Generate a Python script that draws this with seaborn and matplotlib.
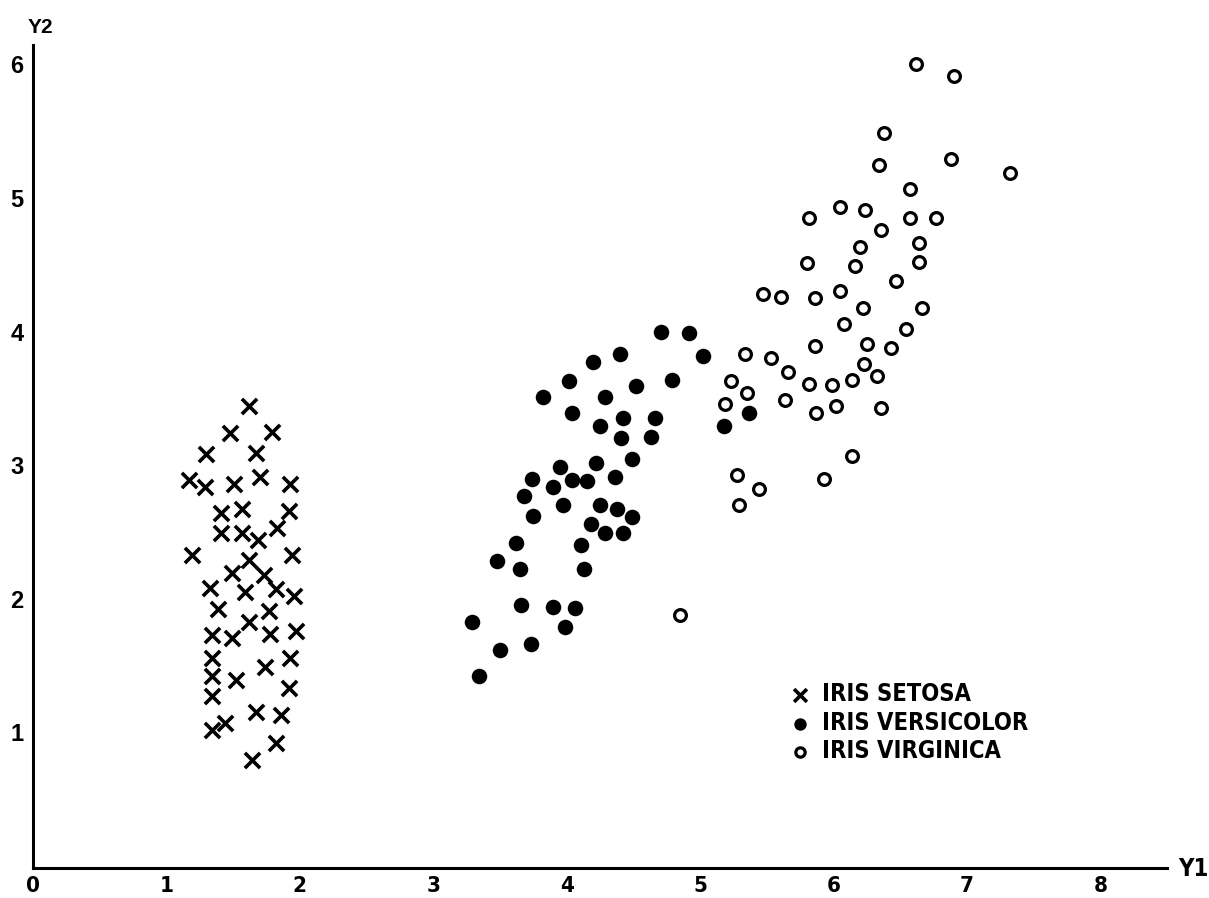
import pandas as pd
import numpy as np
import seaborn as sns
import matplotlib.pyplot as plt
from matplotlib import font_manager

# values
setosa_y1 = [1.62, 1.48, 1.79, 1.30, 1.67, 1.17, 1.29, 1.51, 1.70, 1.93,
             1.41, 1.57, 1.92, 1.41, 1.57, 1.69, 1.83, 1.19, 1.62, 1.94,
             1.49, 1.73, 1.33, 1.59, 1.82, 1.96, 1.39, 1.77, 1.62, 1.34,
             1.49, 1.78, 1.97, 1.34, 1.93, 1.34, 1.52, 1.74, 1.34, 1.92,
             1.67, 1.86, 1.34, 1.44, 1.82, 1.64]
setosa_y2 = [3.44, 3.24, 3.25, 3.08, 3.09, 2.89, 2.84, 2.86, 2.91, 2.86,
             2.64, 2.67, 2.66, 2.49, 2.49, 2.44, 2.53, 2.33, 2.29, 2.33,
             2.19, 2.18, 2.08, 2.05, 2.07, 2.02, 1.92, 1.91, 1.83, 1.73,
             1.71, 1.74, 1.76, 1.56, 1.56, 1.42, 1.39, 1.49, 1.27, 1.33,
             1.15, 1.13, 1.02, 1.07, 0.92, 0.79]

versicolor_y1 = [4.71, 4.92, 4.40, 4.20, 5.02, 4.02, 4.52, 4.79, 3.82, 4.29,
                 4.04, 4.25, 4.42, 4.66, 4.41, 4.63, 5.18, 4.49, 4.22, 3.95,
                 3.74, 3.90, 4.04, 4.15, 4.36, 3.68, 3.97, 4.25, 4.38, 4.49,
                 3.75, 4.18, 4.29, 4.42, 3.62, 4.11, 3.48, 3.65, 4.13, 3.66,
                 3.90, 4.06, 3.99, 3.29, 3.50, 3.73, 3.34, 5.37]
versicolor_y2 = [4.00, 3.99, 3.83, 3.77, 3.82, 3.63, 3.59, 3.64, 3.51, 3.51,
                 3.39, 3.29, 3.35, 3.35, 3.20, 3.21, 3.29, 3.05, 3.02, 2.99,
                 2.90, 2.84, 2.89, 2.88, 2.91, 2.77, 2.70, 2.70, 2.67, 2.61,
                 2.62, 2.56, 2.49, 2.49, 2.42, 2.40, 2.28, 2.22, 2.22, 1.95,
                 1.94, 1.93, 1.79, 1.83, 1.62, 1.66, 1.42, 3.39]

virginica_y1 = [6.62, 6.90, 6.38, 6.34, 6.88, 7.32, 6.57, 5.82, 6.05, 6.24,
                6.57, 6.77, 6.36, 6.64, 6.20, 5.80, 6.16, 6.64, 6.47, 5.47,
                5.61, 5.86, 6.05, 6.22, 6.66, 6.08, 6.54, 5.86, 6.25, 6.43,
                5.34, 5.53, 6.23, 5.66, 5.23, 5.82, 5.99, 6.14, 6.33, 5.35,
                5.19, 5.64, 5.87, 6.02, 6.36, 6.14, 5.28, 5.93, 5.44, 5.29,
                4.85]
virginica_y2 = [6.00, 5.91, 5.49, 5.25, 5.29, 5.19, 5.07, 4.85, 4.93, 4.91,
                4.85, 4.85, 4.76, 4.66, 4.63, 4.51, 4.49, 4.52, 4.38, 4.28,
                4.26, 4.25, 4.30, 4.18, 4.18, 4.06, 4.02, 3.89, 3.91, 3.88,
                3.83, 3.80, 3.76, 3.70, 3.63, 3.61, 3.60, 3.64, 3.67, 3.54,
                3.46, 3.49, 3.39, 3.44, 3.43, 3.07, 2.93, 2.90, 2.82, 2.70,
                1.88]

x_ticks = [0, 1, 2, 3, 4, 5, 6, 7, 8]
y_ticks = [1, 2, 3, 4, 5, 6]

df = pd.concat([
    pd.DataFrame({'Y1': setosa_y1, 'Y2': setosa_y2, 'species': 'IRIS SETOSA'}),
    pd.DataFrame({'Y1': versicolor_y1, 'Y2': versicolor_y2, 'species': 'IRIS VERSICOLOR'}),
    pd.DataFrame({'Y1': virginica_y1, 'Y2': virginica_y2, 'species': 'IRIS VIRGINICA'}),
])

sns.set_style('white')

installed = {f.name for f in font_manager.fontManager.ttflist}
narrow = 'Liberation Sans Narrow' if 'Liberation Sans Narrow' in installed else 'DejaVu Sans'
wide = 'Liberation Sans' if 'Liberation Sans' in installed else 'DejaVu Sans'
plt.rcParams['font.family'] = [narrow, 'DejaVu Sans']
plt.rcParams['font.weight'] = 'bold'
plt.rcParams['text.color'] = 'black'
plt.rcParams['axes.labelcolor'] = 'black'

fig = plt.figure(figsize=(12.09, 8.98), dpi=100)
ax = fig.add_axes([33 / 1209, 30 / 898, 1134 / 1209, 823 / 898])

sns.scatterplot(data=df[df.species == 'IRIS SETOSA'], x='Y1', y='Y2', ax=ax,
                marker='x', color='black', s=120, linewidth=2.6, label='IRIS SETOSA')
sns.scatterplot(data=df[df.species == 'IRIS VERSICOLOR'], x='Y1', y='Y2', ax=ax,
                marker='o', color='black', edgecolor='black', s=125, linewidth=0,
                label='IRIS VERSICOLOR')
sns.scatterplot(data=df[df.species == 'IRIS VIRGINICA'], x='Y1', y='Y2', ax=ax,
                marker='o', color='black', facecolor='white', edgecolor='black',
                s=72, linewidth=2.3, label='IRIS VIRGINICA')

ax.set_xlim(0.03, 8.5)
ax.set_ylim(-0.015, 6.145)

for side in ['top', 'right']:
    ax.spines[side].set_visible(False)
for side in ['left', 'bottom']:
    ax.spines[side].set_linewidth(2.2)
    ax.spines[side].set_color('black')

ax.set_xticks(x_ticks)
ax.set_xticklabels([str(v) for v in x_ticks], fontsize=16, fontweight='bold',
                   family=[narrow, 'DejaVu Sans'], stretch='condensed')
ax.xaxis.get_major_ticks()[0].tick1line.set_visible(False)
ax.set_yticks(y_ticks)
ax.set_yticklabels([str(v) for v in y_ticks], fontsize=17, fontweight='bold',
                   family=[wide, 'DejaVu Sans'])
ax.tick_params(axis='x', direction='in', length=9.5, width=1.5, pad=5.5, colors='black')
ax.tick_params(axis='y', direction='in', length=11.5, width=1.5, pad=7, colors='black')

ax.set_xlabel('Y1', fontsize=17, fontweight='bold', va='center', ha='center',
              color='black', family=[narrow, 'DejaVu Sans'], stretch='condensed')
ax.xaxis.set_label_coords(1.0229, -0.001)
ax.set_ylabel('Y2', fontsize=15, fontweight='bold', rotation=0, va='center', ha='center',
              color='black', family=[wide, 'DejaVu Sans'])
ax.yaxis.set_label_coords(0.0062, 1.0207)

leg = ax.legend(loc='upper left', bbox_to_anchor=(0.6658, 0.2260), frameon=False,
                borderpad=0, borderaxespad=0, handlelength=1.0, handletextpad=0.45,
                labelspacing=0.2, prop={'family': [narrow, 'DejaVu Sans'],
                                        'weight': 'bold', 'size': 17,
                                        'stretch': 'condensed'})
for h, size in zip(leg.legend_handles, [85, 80, 45]):
    h.set_sizes([size])
for t in leg.get_texts():
    t.set_color('black')

fig.savefig('out.png', dpi=100)
